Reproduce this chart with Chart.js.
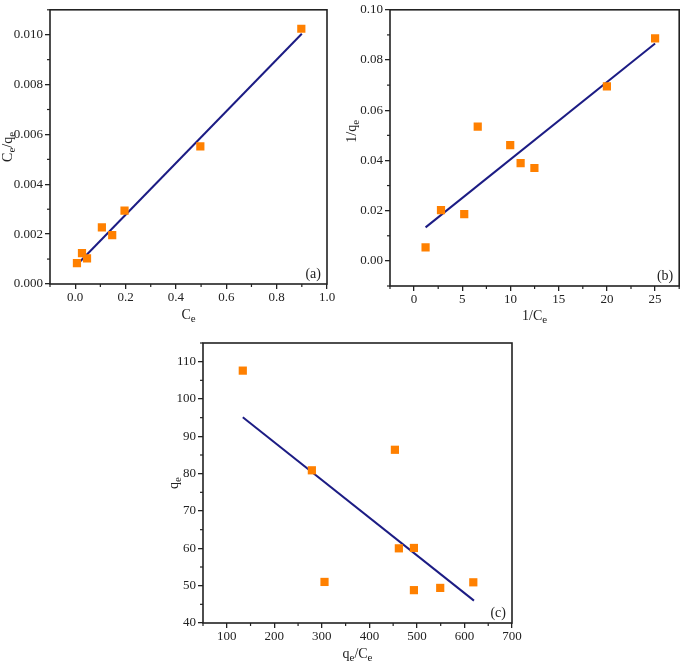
<!DOCTYPE html>
<html><head><meta charset="utf-8">
<script src="https://cdn.jsdelivr.net/npm/chart.js@4"></script>
<style>
body{margin:0;background:#fff;width:685px;height:667px;position:relative;overflow:hidden}
.c{position:absolute}
</style></head><body>
<div class="c" style="left:0;top:0;width:340px;height:330px"><canvas id="ca"></canvas></div>
<div class="c" style="left:340px;top:0;width:345px;height:330px"><canvas id="cb"></canvas></div>
<div class="c" style="left:160px;top:330px;width:370px;height:337px"><canvas id="cc"></canvas></div>
<script>
// ---- Panel (a): Langmuir ----
const ceA = [0.007, 0.027, 0.047, 0.106, 0.147, 0.196, 0.497, 0.898];
const ceQeA = [0.00084, 0.00124, 0.00103, 0.00227, 0.00196, 0.00294, 0.00552, 0.01024];
const fitXA = [0.007, 0.9];
const fitYA = [0.00077, 0.01004];
const xTicksA = [0, 0.2, 0.4, 0.6, 0.8, 1.0];
const yTicksA = [0, 0.002, 0.004, 0.006, 0.008, 0.010];

// ---- Panel (b): 1/qe vs 1/Ce ----
const invCeB = [1.19, 2.79, 5.2, 6.6, 9.97, 11.05, 12.48, 20.0, 25.0];
const invQeB = [0.0054, 0.0202, 0.0186, 0.0535, 0.0461, 0.0389, 0.0370, 0.0695, 0.0886];
const fitXB = [1.19, 25.0];
const fitYB = [0.01335, 0.0866];
const xTicksB = [0, 5, 10, 15, 20, 25];
const yTicksB = [0, 0.02, 0.04, 0.06, 0.08, 0.10];

// ---- Panel (c): qe vs qe/Ce ----
const qeCeC = [133.7, 279, 305.6, 453.7, 462, 493.7, 493.7, 549, 618.6];
const qeC = [107.6, 80.9, 51.0, 86.4, 60.0, 60.1, 48.8, 49.4, 50.9];
const fitXC = [133.7, 620];
const fitYC = [95.1, 46.0];
const xTicksC = [100, 200, 300, 400, 500, 600, 700];
const yTicksC = [40, 50, 60, 70, 80, 90, 100, 110];

const FONT = '"Liberation Serif", "Times New Roman", serif';
const INK = '#222';
const ORANGE = '#ff8000';
const NAVY = '#1c1c84';

function drawRich(ctx, parts, cx, cy, rot, size) {
  ctx.save();
  ctx.translate(cx, cy);
  if (rot) ctx.rotate(-Math.PI / 2);
  ctx.fillStyle = INK;
  ctx.textBaseline = 'middle';
  ctx.textAlign = 'left';
  const subSize = Math.round(size * 0.78);
  let total = 0;
  const widths = parts.map(p => {
    ctx.font = (p.sub ? subSize : size) + 'px ' + FONT;
    const w = ctx.measureText(p.t).width;
    total += w;
    return w;
  });
  let x = -total / 2;
  parts.forEach((p, i) => {
    ctx.font = (p.sub ? subSize : size) + 'px ' + FONT;
    ctx.fillText(p.t, x, p.sub ? size * 0.3 : 0);
    x += widths[i];
  });
  ctx.restore();
}

const decor = {
  id: 'decor',
  afterDraw(chart, args, o) {
    const ctx = chart.ctx;
    const a = chart.chartArea;
    const xs = chart.scales.x, ys = chart.scales.y;
    ctx.save();
    // minor ticks
    ctx.strokeStyle = INK;
    ctx.lineWidth = 1.2;
    const minor = (scale, horiz) => {
      const t = scale.ticks.map(k => k.value);
      const step = t[1] - t[0];
      for (let v = t[0] - step / 2; v <= scale.max + 1e-9; v += step) {
        if (v < scale.min - 1e-9) continue;
        const p = scale.getPixelForValue(v);
        ctx.beginPath();
        if (horiz) { ctx.moveTo(p, a.bottom); ctx.lineTo(p, a.bottom + 3); }
        else { ctx.moveTo(a.left, p); ctx.lineTo(a.left - 3, p); }
        ctx.stroke();
      }
    };
    minor(xs, true);
    minor(ys, false);
    // frame
    ctx.lineWidth = 1.6;
    ctx.strokeRect(a.left, a.top, a.right - a.left, a.bottom - a.top);
    ctx.restore();
    // titles
    drawRich(ctx, o.xTitle, (a.left + a.right) / 2, a.bottom + o.xTitleDy, false, 14);
    drawRich(ctx, o.yTitle, a.left - o.yTitleDx, a.top + (a.bottom - a.top) * o.yTitleFrac, true, 14);
    // panel label
    ctx.save();
    ctx.font = '14px ' + FONT;
    ctx.fillStyle = INK;
    ctx.textAlign = 'right';
    ctx.textBaseline = 'alphabetic';
    ctx.fillText(o.panel, a.right - 6, a.bottom - 6);
    ctx.restore();
  }
};

function makeChart(id, xs, ys, fx, fy, cfg) {
  const scatterPts = xs.map((x, i) => ({ x: x, y: ys[i] }));
  const fitPts = fx.map((x, i) => ({ x: x, y: fy[i] }));
  const tickFont = { family: FONT, size: 13 };
  const axisCommon = (ticks, min, max, fmt, horiz, size) => ({
    type: 'linear',
    min: min, max: max,
    afterBuildTicks: s => { s.ticks = ticks.map(v => ({ value: v })); },
    afterFit: s => { if (horiz) s.height = size; else s.width = size; },
    border: { display: false },
    grid: { display: true, drawOnChartArea: false, drawTicks: true, tickLength: 5, color: INK, tickColor: INK, lineWidth: 1.3 },
    ticks: { color: INK, font: tickFont, padding: horiz ? 1 : 2, maxRotation: 0, autoSkip: false,
      callback: v => fmt(v) }
  });
  return new Chart(document.getElementById(id), {
    type: 'scatter',
    data: {
      datasets: [
        { type: 'scatter', data: scatterPts, pointStyle: 'rect', pointRadius: 5.8, pointHoverRadius: 5.8,
          backgroundColor: ORANGE, borderColor: ORANGE, borderWidth: 0, order: 0 },
        { type: 'line', data: fitPts, borderColor: NAVY, borderWidth: 2, pointRadius: 0, fill: false, order: 1 }
      ]
    },
    options: {
      responsive: true, maintainAspectRatio: false, animation: false,
      layout: { padding: cfg.pad },
      plugins: { legend: { display: false }, tooltip: { enabled: false }, decor: cfg.decor },
      scales: {
        x: axisCommon(cfg.xTicks, cfg.xMin, cfg.xMax, cfg.xFmt, true, cfg.xH),
        y: axisCommon(cfg.yTicks, cfg.yMin, cfg.yMax, cfg.yFmt, false, cfg.yW)
      }
    },
    plugins: [decor]
  });
}

makeChart('ca', ceA, ceQeA, fitXA, fitYA, {
  pad: { left: 0, top: 4, right: 13, bottom: 0 }, xH: 46, yW: 50,
  xTicks: xTicksA, xMin: -0.1, xMax: 1.0, xFmt: v => v.toFixed(1),
  yTicks: yTicksA, yMin: 0, yMax: 0.011, yFmt: v => v.toFixed(3),
  decor: { panel: '(a)', xTitleDy: 31, yTitleDx: 42, yTitleFrac: 0.5,
    xTitle: [{ t: 'C' }, { t: 'e', sub: true }],
    yTitle: [{ t: 'C' }, { t: 'e', sub: true }, { t: '/q' }, { t: 'e', sub: true }] }
});

makeChart('cb', invCeB, invQeB, fitXB, fitYB, {
  pad: { left: 0, top: 5, right: 2, bottom: 0 }, xH: 44, yW: 50,
  xTicks: xTicksB, xMin: -2.5, xMax: 27.5, xFmt: v => String(Math.round(v)),
  yTicks: yTicksB, yMin: -0.01, yMax: 0.10, yFmt: v => v.toFixed(2),
  decor: { panel: '(b)', xTitleDy: 30, yTitleDx: 38, yTitleFrac: 0.44,
    xTitle: [{ t: '1/C' }, { t: 'e', sub: true }],
    yTitle: [{ t: '1/q' }, { t: 'e', sub: true }] }
});

makeChart('cc', qeCeC, qeC, fitXC, fitYC, {
  pad: { left: 0, top: 13, right: 18, bottom: 0 }, xH: 44, yW: 43,
  xTicks: xTicksC, xMin: 50, xMax: 700, xFmt: v => String(Math.round(v)),
  yTicks: yTicksC, yMin: 40, yMax: 115, yFmt: v => String(Math.round(v)),
  decor: { panel: '(c)', xTitleDy: 31, yTitleDx: 29, yTitleFrac: 0.5,
    xTitle: [{ t: 'q' }, { t: 'e', sub: true }, { t: '/C' }, { t: 'e', sub: true }],
    yTitle: [{ t: 'q' }, { t: 'e', sub: true }] }
});
</script>
</body></html>
